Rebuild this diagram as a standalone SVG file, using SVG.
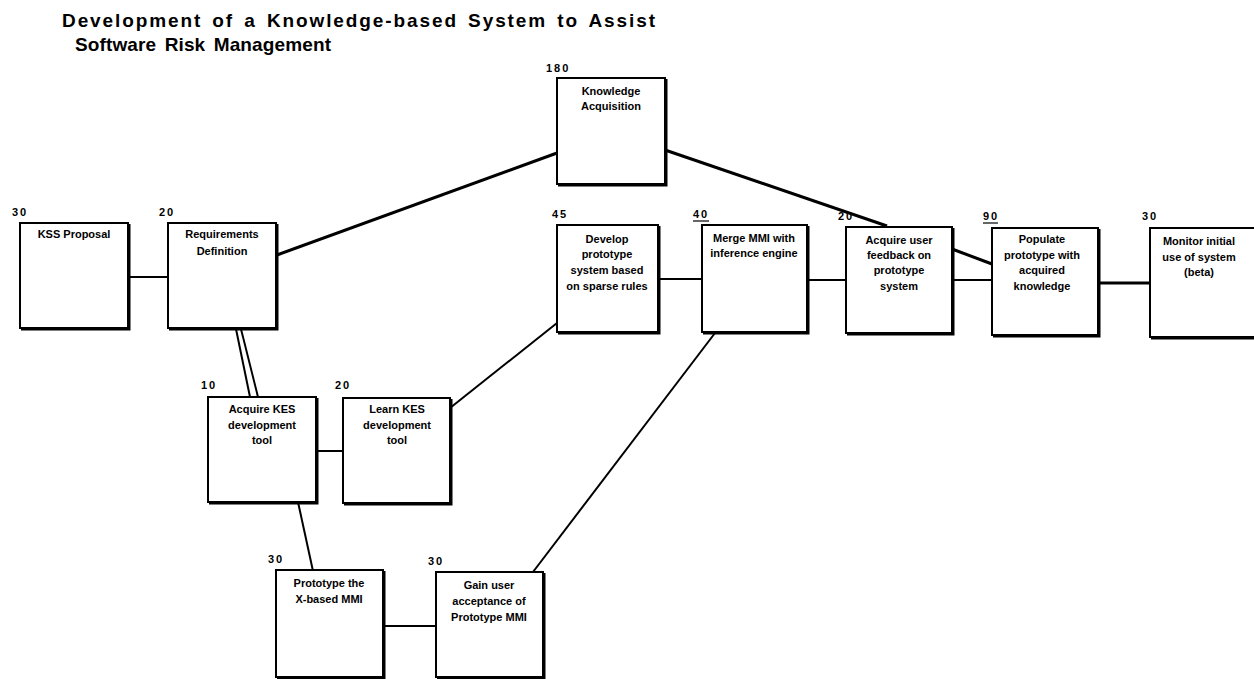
<svg xmlns="http://www.w3.org/2000/svg" width="1254" height="679" viewBox="0 0 1254 679">
<style>
.bx{fill:#fff;stroke:#000;stroke-width:2}
.sh{fill:none;stroke:#000;stroke-width:2}
.t{font-family:"Liberation Sans",Arial,sans-serif;font-weight:bold;font-size:11px;fill:#000;text-anchor:middle}
.n{font-family:"Liberation Sans",Arial,sans-serif;font-weight:bold;font-size:11px;fill:#000;letter-spacing:2px}
.ttl{font-family:"Liberation Sans",Arial,sans-serif;font-weight:bold;font-size:19px;fill:#000;word-spacing:3px}
.c{stroke:#000;stroke-width:2;fill:none}
.ct{stroke:#000;stroke-width:3;fill:none}
</style>
<rect width="1254" height="679" fill="#fff"/>
<text class="ttl" x="62" y="27" textLength="593" lengthAdjust="spacing">Development of a Knowledge-based System to Assist</text>
<text class="ttl" x="75" y="51" textLength="256" lengthAdjust="spacing">Software Risk Management</text>

<g id="connectors">
<line class="c" x1="128" y1="277" x2="168" y2="277"/>
<line class="ct" x1="277" y1="255" x2="557" y2="153"/>
<line class="ct" x1="665" y1="150" x2="887" y2="226"/>
<line class="c" x1="236" y1="329" x2="250" y2="397"/>
<line class="c" x1="241" y1="329" x2="258" y2="397"/>
<line class="c" x1="316" y1="451" x2="343" y2="451"/>
<line class="c" x1="450" y1="408" x2="557" y2="323"/>
<line class="c" x1="658" y1="279" x2="702" y2="279"/>
<line class="c" x1="807" y1="280" x2="846" y2="280"/>
<line class="ct" x1="952" y1="249" x2="992" y2="264"/>
<line class="c" x1="952" y1="280" x2="992" y2="280"/>
<line class="ct" x1="1098" y1="283" x2="1150" y2="283"/>
<line class="c" x1="298" y1="502" x2="313" y2="571"/>
<line class="c" x1="383" y1="626" x2="436" y2="626"/>
<line class="c" x1="533" y1="572" x2="715" y2="333"/>
</g>

<g id="kss">
<rect class="bx" x="20" y="223" width="108" height="105"/>
<path class="sh" d="M21,329.5 H129.5 V224"/>
<text class="n" x="12" y="216">30</text>
<text class="t" x="74" y="238">KSS Proposal</text>
</g>
<g id="req">
<rect class="bx" x="168" y="223" width="108" height="105"/>
<path class="sh" d="M169,329.5 H277.5 V224"/>
<text class="n" x="159" y="216">20</text>
<text class="t" x="222" y="238">Requirements</text>
<text class="t" x="222" y="255">Definition</text>
</g>
<g id="ka">
<rect class="bx" x="557" y="78" width="108" height="106"/>
<path class="sh" d="M558,185.5 H666.5 V79"/>
<text class="n" x="546" y="72">180</text>
<text class="t" x="611" y="95">Knowledge</text>
<text class="t" x="611" y="110">Acquisition</text>
</g>
<g id="dev">
<rect class="bx" x="557" y="225" width="101" height="107"/>
<path class="sh" d="M558,333.5 H659.5 V226"/>
<text class="n" x="552" y="218">45</text>
<text class="t" x="607" y="243">Develop</text>
<text class="t" x="607" y="258">prototype</text>
<text class="t" x="607" y="274">system based</text>
<text class="t" x="607" y="290">on sparse rules</text>
</g>
<g id="merge">
<rect class="bx" x="702" y="225" width="105" height="107"/>
<path class="sh" d="M703,333.5 H808.5 V226"/>
<text class="n" x="693" y="218">40</text>
<line x1="693" y1="221" x2="709" y2="221" stroke="#000" stroke-width="1.2"/>
<text class="t" x="754" y="242">Merge MMI with</text>
<text class="t" x="754" y="257">inference engine</text>
</g>
<g id="auf">
<rect class="bx" x="846" y="227" width="106" height="106"/>
<path class="sh" d="M847,334.5 H953.5 V228"/>
<text class="n" x="838" y="220">20</text>
<text class="t" x="899" y="244">Acquire user</text>
<text class="t" x="899" y="259">feedback on</text>
<text class="t" x="899" y="274">prototype</text>
<text class="t" x="899" y="290">system</text>
</g>
<g id="pop">
<rect class="bx" x="992" y="228" width="106" height="107"/>
<path class="sh" d="M993,336.5 H1099.5 V229"/>
<text class="n" x="983" y="220">90</text>
<line x1="983" y1="223" x2="998" y2="223" stroke="#000" stroke-width="1.2"/>
<text class="t" x="1042" y="243">Populate</text>
<text class="t" x="1042" y="259">prototype with</text>
<text class="t" x="1042" y="274">acquired</text>
<text class="t" x="1042" y="290">knowledge</text>
</g>
<g id="mon">
<rect class="bx" x="1150" y="228" width="106" height="109"/>
<path class="sh" d="M1151,338.5 H1257.5"/>
<text class="n" x="1142" y="220">30</text>
<text class="t" x="1199" y="245">Monitor initial</text>
<text class="t" x="1199" y="261">use of system</text>
<text class="t" x="1199" y="276">(beta)</text>
</g>
<g id="akes">
<rect class="bx" x="208" y="397" width="108" height="105"/>
<path class="sh" d="M209,503.5 H317.5 V398"/>
<text class="n" x="201" y="389">10</text>
<text class="t" x="262" y="413">Acquire KES</text>
<text class="t" x="262" y="429">development</text>
<text class="t" x="262" y="444">tool</text>
</g>
<g id="lkes">
<rect class="bx" x="343" y="398" width="107" height="105"/>
<path class="sh" d="M344,504.5 H451.5 V399"/>
<text class="n" x="335" y="389">20</text>
<text class="t" x="397" y="413">Learn KES</text>
<text class="t" x="397" y="429">development</text>
<text class="t" x="397" y="444">tool</text>
</g>
<g id="protox">
<rect class="bx" x="276" y="570" width="107" height="107"/>
<path class="sh" d="M277,678 H384.5 V571"/>
<text class="n" x="268" y="563">30</text>
<text class="t" x="329" y="587">Prototype the</text>
<text class="t" x="329" y="603">X-based MMI</text>
</g>
<g id="gain">
<rect class="bx" x="436" y="572" width="107" height="105"/>
<path class="sh" d="M437,678 H544.5 V573"/>
<text class="n" x="428" y="565">30</text>
<text class="t" x="489" y="589">Gain user</text>
<text class="t" x="489" y="605">acceptance of</text>
<text class="t" x="489" y="621">Prototype MMI</text>
</g>
</svg>
